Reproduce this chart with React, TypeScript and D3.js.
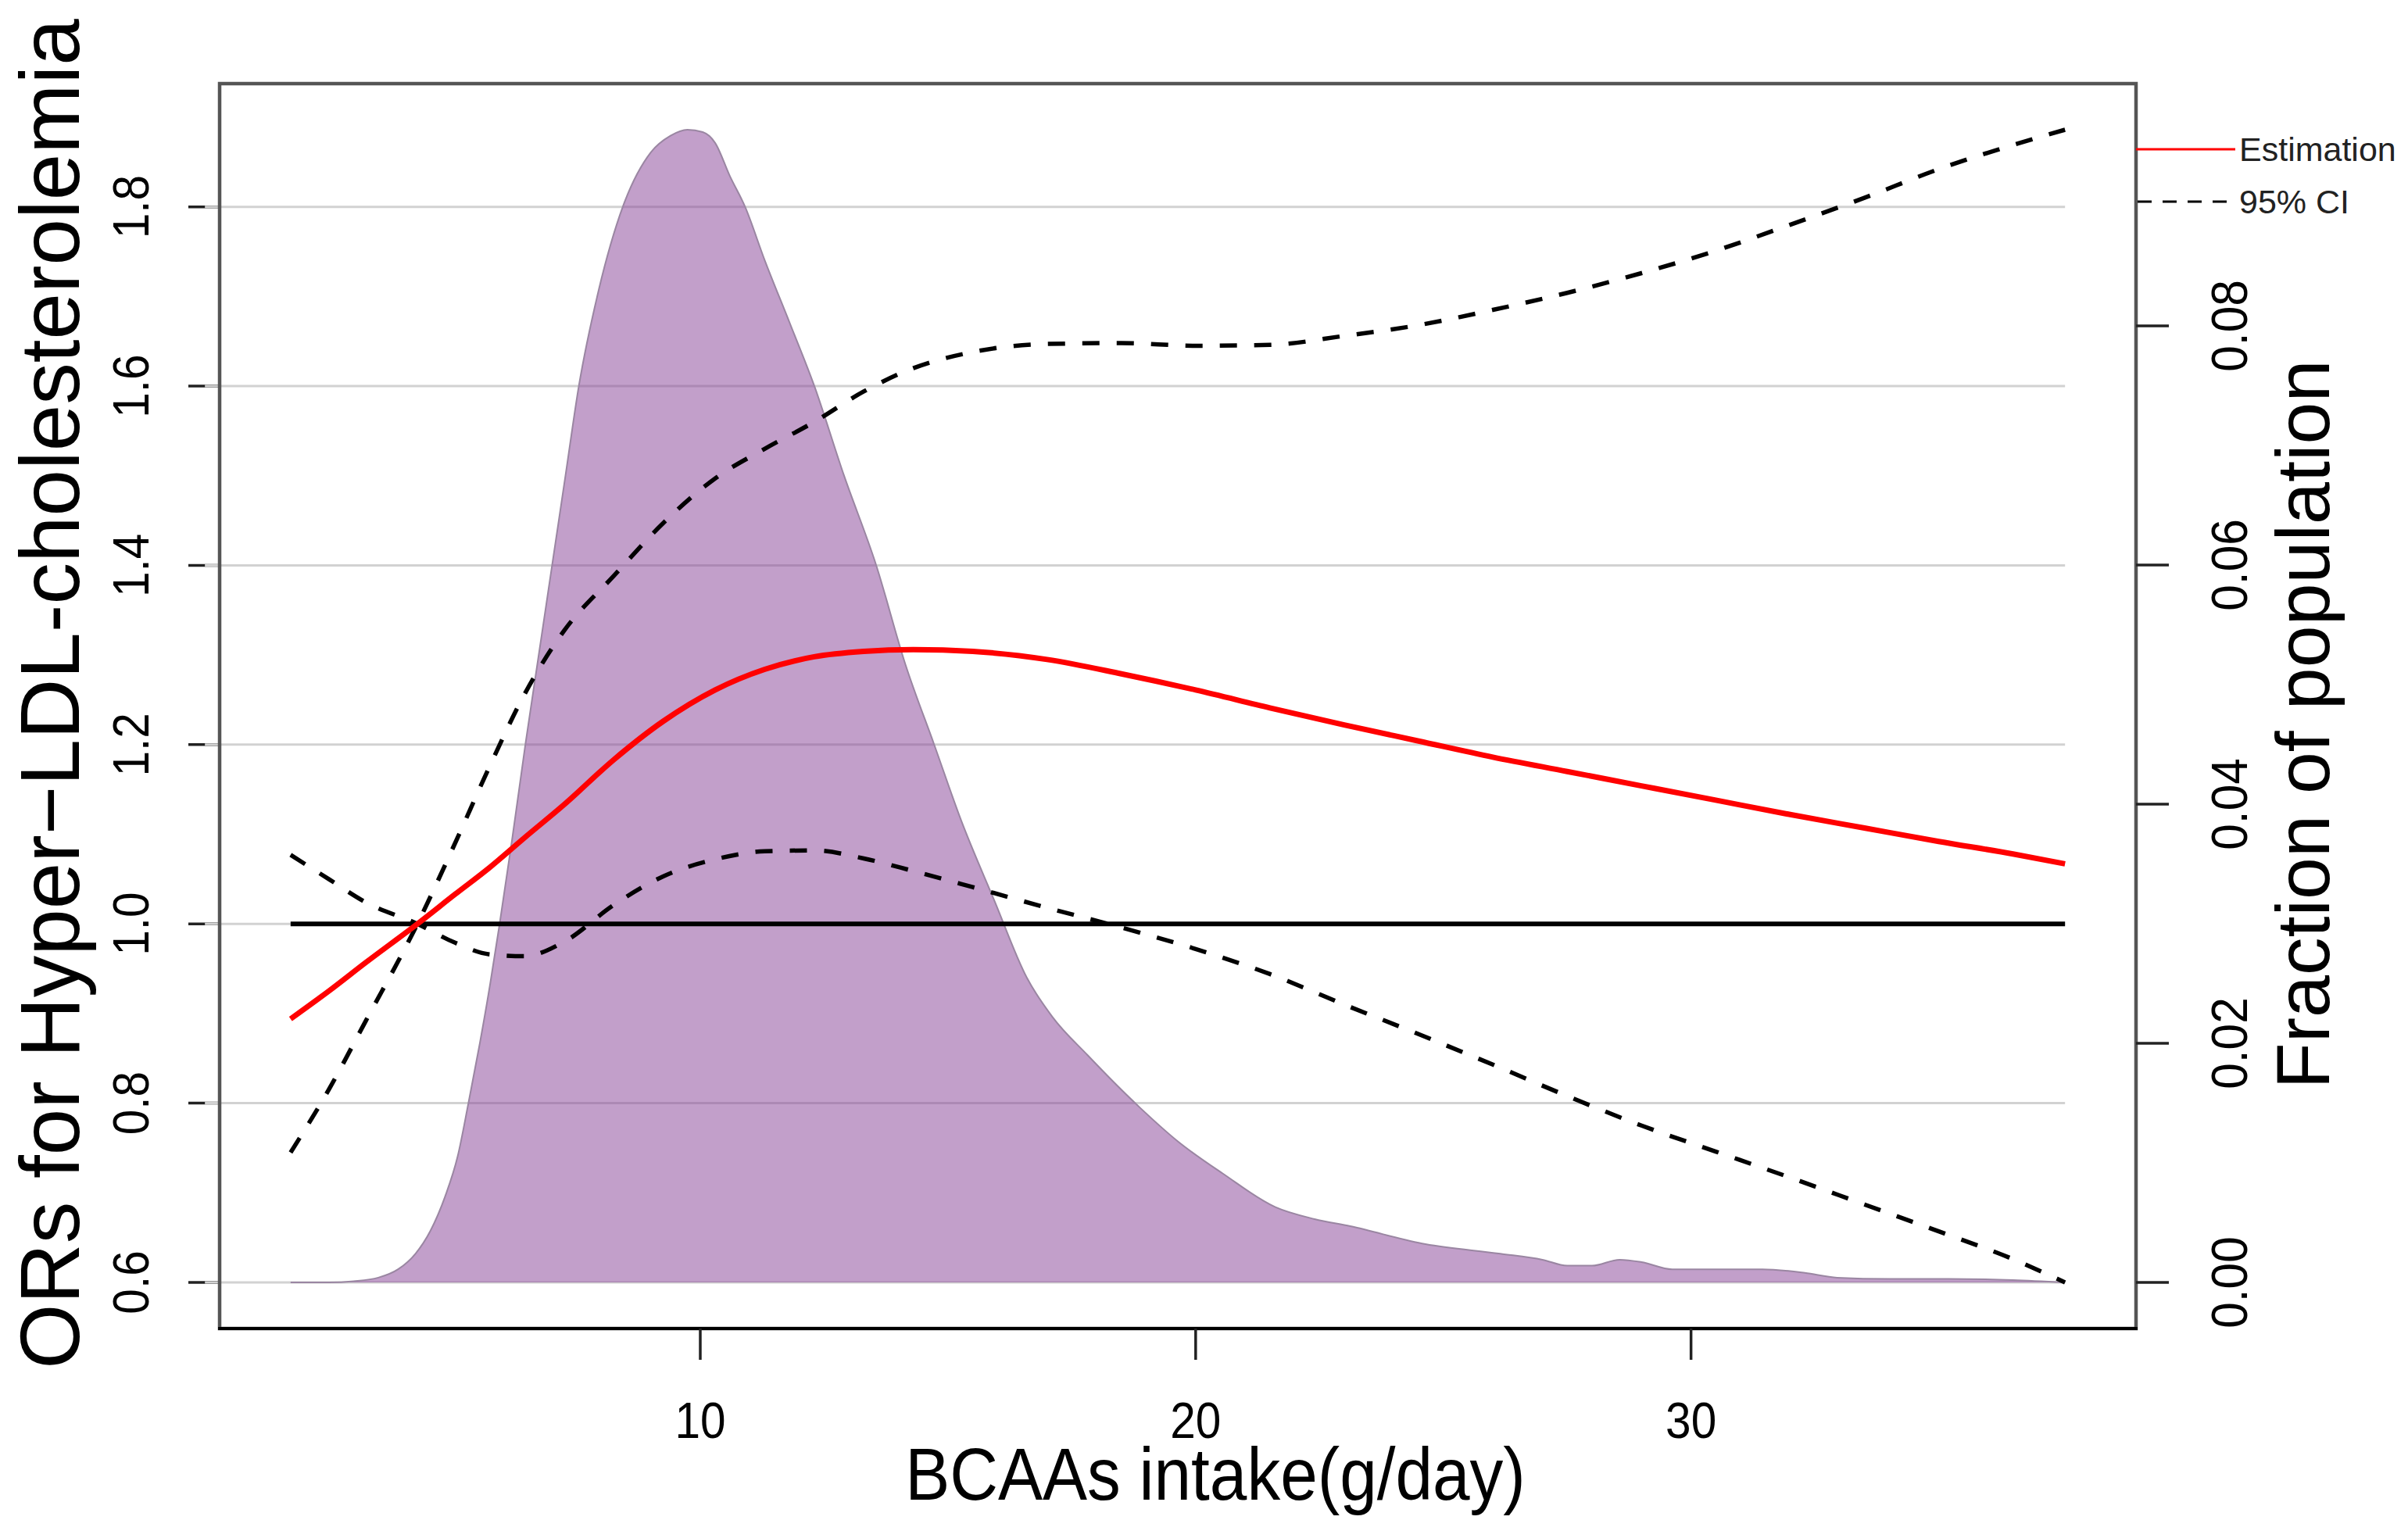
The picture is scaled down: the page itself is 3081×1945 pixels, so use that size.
import * as d3 from 'd3';

// spline estimate and 95% CI
const intake = [1.73, 2.5, 3.25, 4.29, 5.05, 5.75, 6.45, 7.25, 8.25, 9.25, 10.3, 11.3, 12.3, 13.3, 14.3, 15.5, 17, 18.5, 20, 21.5, 23, 24.5, 26, 27.5, 29, 30.5, 32, 33.5, 35, 36.5, 37.55];
const estimate = [0.894, 0.925, 0.957, 1.0, 1.033, 1.063, 1.096, 1.133, 1.183, 1.226, 1.261, 1.284, 1.298, 1.304, 1.306, 1.304, 1.295, 1.279, 1.261, 1.241, 1.222, 1.204, 1.186, 1.17, 1.154, 1.138, 1.122, 1.107, 1.092, 1.078, 1.067];
const upperCI = [0.745, 0.815, 0.892, 1.0, 1.09, 1.176, 1.256, 1.327, 1.388, 1.447, 1.497, 1.53, 1.56, 1.594, 1.62, 1.638, 1.647, 1.648, 1.645, 1.646, 1.656, 1.668, 1.685, 1.704, 1.726, 1.751, 1.78, 1.81, 1.842, 1.869, 1.886];
const lowerCI = [1.077, 1.05, 1.024, 1.0, 0.979, 0.966, 0.964, 0.98, 1.021, 1.053, 1.072, 1.081, 1.082, 1.073, 1.059, 1.041, 1.018, 0.996, 0.972, 0.944, 0.91, 0.877, 0.843, 0.808, 0.775, 0.746, 0.717, 0.687, 0.657, 0.626, 0.6];

// population density of intake
const densityX = [1.73, 2.5, 3.0, 3.5, 3.9, 4.25, 4.55, 4.85, 5.1, 5.32, 5.55, 5.76, 5.95, 6.2, 6.47, 6.74, 7.01, 7.28, 7.55, 7.95, 8.44, 9.0, 9.4, 9.74, 10.05, 10.3, 10.6, 10.9, 11.3, 11.8, 12.3, 12.9, 13.55, 14.14, 14.72, 15.27, 15.93, 16.59, 17.11, 17.82, 18.88, 19.64, 20.55, 21.61, 22.4, 23.12, 24.64, 26.15, 27.0, 27.5, 28.0, 28.56, 29.0, 29.62, 30.5, 31.44, 32.3, 32.95, 34.0, 35.2, 36.5, 37.55];
const densityY = [0, 0, 0.0001, 0.0004, 0.0011, 0.0024, 0.0043, 0.0072, 0.0105, 0.015, 0.02, 0.025, 0.03, 0.037, 0.045, 0.0525, 0.06, 0.0675, 0.075, 0.083, 0.09, 0.0945, 0.0959, 0.0964, 0.0962, 0.0953, 0.0925, 0.09, 0.0855, 0.0803, 0.075, 0.0675, 0.06, 0.0517, 0.045, 0.0386, 0.032, 0.0255, 0.0222, 0.019, 0.0146, 0.0118, 0.0091, 0.0063, 0.0053, 0.0047, 0.0032, 0.0024, 0.0019, 0.0014, 0.0014, 0.0019, 0.0017, 0.0011, 0.0011, 0.0011, 0.0008, 0.0004, 0.0003, 0.0003, 0.0002, 0];

const xTicks = [10, 20, 30];
const yTicks = [0.6, 0.8, 1.0, 1.2, 1.4, 1.6, 1.8];
const densTicks = [0, 0.02, 0.04, 0.06, 0.08];
const legendItems = ['Estimation', '95% CI'];

const W = 3081;
const H = 1945;
const box = { left: 281, right: 2733, top: 107, bottom: 1700 };

// R style 4% padding
const pad = (lo: number, hi: number): [number, number] => {
  const r = hi - lo;
  return [lo - 0.04 * r, hi + 0.04 * r];
};

const xMin = d3.min(intake)!;
const xMax = d3.max(intake)!;
const yMin = d3.min(lowerCI)!;
const yMax = d3.max(upperCI)!;
const dMax = d3.max(densityY)!;

const x = d3.scaleLinear().domain(pad(xMin, xMax)).range([box.left, box.right]);
const y = d3.scaleLinear().domain(pad(yMin, yMax)).range([box.bottom, box.top]);
const yd = d3.scaleLinear().domain(pad(0, dMax)).range([box.bottom, box.top]);

const curve = d3.curveMonotoneX;
const lineOf = (vals: number[]) =>
  d3.line<number>().x((_, i) => x(intake[i])).y(d => y(d)).curve(curve)(vals) || '';

const densityArea = d3.area<number>()
  .x((_, i) => x(densityX[i]))
  .y0(yd(0))
  .y1(d => yd(d))
  .curve(curve)(densityY) || '';

const densityLine = d3.line<number>()
  .x((_, i) => x(densityX[i]))
  .y(d => yd(d))
  .curve(curve)(densityY) || '';

function Label({ x, y, size, rotate = 0, sx = 1, anchor = 'middle', fill = '#000', children }: {
  x: number; y: number; size: number; rotate?: number; sx?: number; anchor?: string; fill?: string; children: string;
}) {
  return (
    <text
      transform={`translate(${x},${y}) rotate(${rotate}) scale(${sx},1)`}
      fontSize={size}
      textAnchor={anchor}
      fill={fill}
    >
      {children}
    </text>
  );
}

export default function App() {
  const tickSize = 65;
  const tickSx = 0.9;
  return (
    <svg
      width={W}
      height={H}
      viewBox={`0 0 ${W} ${H}`}
      style={{ position: 'absolute', left: 0, top: 0, background: '#fff' }}
      fontFamily="'Liberation Sans', Arial, Helvetica, sans-serif"
    >
      <rect width={W} height={H} fill="#fff" />

      {/* left ticks (drawn under the grid like the original) */}
      {yTicks.map(t => (
        <line key={`lt${t}`} x1={box.left - 40} x2={box.left} y1={y(t)} y2={y(t)} stroke="#222" strokeWidth={3.5} />
      ))}

      {/* grid */}
      {yTicks.map(t => (
        <line key={`g${t}`} x1={x(0)} x2={x(xMax)} y1={y(t)} y2={y(t)} stroke="#d2d2d2" strokeWidth={3} />
      ))}

      {/* density */}
      <path d={densityArea} fill="rgb(133,64,150)" fillOpacity={0.5} />
      <path d={densityLine} fill="none" stroke="#9a86a2" strokeWidth={2} />

      {/* reference OR = 1 */}
      <line x1={x(xMin)} x2={x(xMax)} y1={y(1)} y2={y(1)} stroke="#000" strokeWidth={6} />

      {/* CI and estimate */}
      <path d={lineOf(upperCI)} fill="none" stroke="#000" strokeWidth={5.5} strokeDasharray="22 22" />
      <path d={lineOf(lowerCI)} fill="none" stroke="#000" strokeWidth={5.5} strokeDasharray="22 22" />
      <path d={lineOf(estimate)} fill="none" stroke="#ff0000" strokeWidth={7} />

      {/* box */}
      <rect x={box.left} y={box.top} width={box.right - box.left} height={box.bottom - box.top}
        fill="none" stroke="#555" strokeWidth={4.5} />
      <line x1={box.left - 2} x2={box.right + 2} y1={box.bottom} y2={box.bottom} stroke="#000" strokeWidth={4} />

      {/* bottom axis */}
      {xTicks.map(t => (
        <g key={`xt${t}`}>
          <line x1={x(t)} x2={x(t)} y1={box.bottom} y2={box.bottom + 40} stroke="#222" strokeWidth={3.5} />
          <Label x={x(t)} y={1840} size={tickSize} sx={tickSx}>{String(t)}</Label>
        </g>
      ))}

      {/* left axis labels */}
      {yTicks.map(t => (
        <Label key={`yl${t}`} x={190} y={y(t)} size={tickSize} sx={tickSx} rotate={-90}>{t.toFixed(1)}</Label>
      ))}

      {/* right axis */}
      {densTicks.map(t => (
        <g key={`rt${t}`}>
          <line x1={box.right} x2={box.right + 42} y1={yd(t)} y2={yd(t)} stroke="#222" strokeWidth={3.5} />
          <Label x={2875} y={yd(t)} size={tickSize} sx={0.93} rotate={-90}>{t.toFixed(2)}</Label>
        </g>
      ))}

      {/* titles */}
      <Label x={1555} y={1919} size={95} sx={0.9}>BCAAs intake(g/day)</Label>
      <Label x={101} y={888} size={107} rotate={-90}>ORs for Hyper−LDL-cholesterolemia</Label>
      <Label x={2980} y={927} size={97} rotate={-90}>Fraction of population</Label>

      {/* legend */}
      <line x1={box.right} x2={2860} y1={191} y2={191} stroke="#ff0000" strokeWidth={3} />
      <line x1={box.right + 2} x2={2852} y1={258} y2={258} stroke="#000" strokeWidth={3} strokeDasharray="18 14" />
      <Label x={2865} y={206} size={43} anchor="start" fill="#222">{legendItems[0]}</Label>
      <Label x={2865} y={273} size={43} anchor="start" fill="#222">{legendItems[1]}</Label>
    </svg>
  );
}
